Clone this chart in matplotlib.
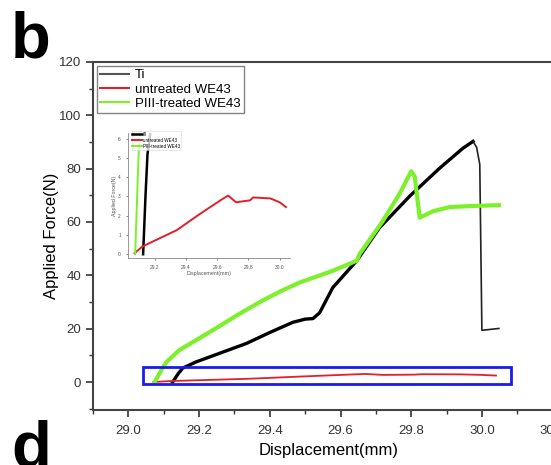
import matplotlib.pyplot as plt
from matplotlib.patches import Rectangle
from matplotlib.ticker import MultipleLocator

plt.rcParams['font.family'] = ['Liberation Sans', 'DejaVu Sans']

# Ti: main rising part and the drop after failure
ti_x = [29.125, 29.14, 29.153, 29.19, 29.258, 29.334, 29.40, 29.465, 29.50, 29.522,
        29.541, 29.578, 29.646, 29.71, 29.796, 29.88, 29.946, 29.975]
ti_y = [0.0, 3.0, 5.2, 7.5, 10.8, 14.5, 18.6, 22.4, 23.6, 23.8,
        26.0, 35.4, 45.5, 57.8, 69.7, 80.1, 87.6, 90.2]
ti_drop_x = [29.975, 29.985, 29.994, 30.0, 30.048]
ti_drop_y = [90.2, 88.0, 81.6, 19.4, 20.1]

# untreated WE43
red_x = [29.07, 29.12, 29.34, 29.49, 29.62, 29.67, 29.72, 29.81, 29.83, 29.94, 30.0, 30.04]
red_y = [0.05, 0.4, 1.25, 2.1, 2.8, 3.05, 2.7, 2.8, 2.95, 2.9, 2.7, 2.45]

# PIII-treated WE43
grn_x = [29.074, 29.093, 29.107, 29.144, 29.238, 29.314, 29.38, 29.43, 29.484, 29.578,
         29.646, 29.654, 29.72, 29.768, 29.80, 29.81, 29.824, 29.861, 29.909, 29.975, 30.048]
grn_y = [0.0, 4.5, 7.5, 12.0, 19.4, 25.6, 30.6, 34.0, 37.3, 41.7,
         45.5, 48.0, 60.4, 70.8, 79.0, 77.0, 61.6, 64.0, 65.6, 66.0, 66.3]

labels = ['Ti', 'untreated WE43', 'PIII-treated WE43']

fig = plt.figure(figsize=(5.51, 4.65), dpi=100)
ax = fig.add_axes([0.169, 0.118, 0.898, 0.749])

ax.plot(ti_x, ti_y, color='black', lw=2.4)
ax.plot(ti_drop_x, ti_drop_y, color='#222222', lw=1.2)
ax.plot([], [], color='#555555', lw=1.2, label=labels[0])
ax.plot(red_x, red_y, color='#e0202a', lw=1.3, label=labels[1])
ax.plot(grn_x, grn_y, color='#7cf02a', lw=3, label=labels[2])

ax.add_patch(Rectangle((29.042, -0.8), 1.04, 6.4, fill=False, edgecolor='#1a1aee', lw=2, zorder=5))

ax.set_xlim(28.9, 30.3)
ax.set_ylim(-10.5, 120)
ax.xaxis.set_major_locator(MultipleLocator(0.2))
ax.xaxis.set_minor_locator(MultipleLocator(0.1))
ax.yaxis.set_major_locator(MultipleLocator(20))
ax.yaxis.set_minor_locator(MultipleLocator(10))
ax.tick_params(which='both', direction='out', top=False, right=False, labelsize=9.5, colors='#333333')
ax.tick_params(which='major', length=5, width=1.2)
ax.tick_params(axis='x', which='major', pad=6)
ax.tick_params(which='minor', length=3, width=1)
for s in ax.spines.values():
    s.set_linewidth(1.5)
    s.set_color('#444444')
ax.set_xlabel('Displacement(mm)', fontsize=12)
ax.set_ylabel('Applied Force(N)', fontsize=12)
ax.xaxis.set_label_coords(0.475, -0.095)
ax.yaxis.set_label_coords(-0.069, 0.5)

leg = ax.legend(loc='upper left', fontsize=9.5, frameon=True, fancybox=False, handlelength=2.2,
                borderaxespad=0.3, labelspacing=0.15, handletextpad=0.4, borderpad=0.25)
leg.get_frame().set_edgecolor('#666666')
leg.get_frame().set_linewidth(1)
for h in leg.get_lines():
    h.set_linewidth(1.5)

# inset zoom of the boxed region
ins = fig.add_axes([0.232, 0.445, 0.294, 0.269])
ins.plot(ti_x, ti_y, color='black', lw=1.8, label=labels[0])
ins.plot(red_x, red_y, color='#e0202a', lw=1.4, label=labels[1])
ins.plot(grn_x, grn_y, color='#7cf02a', lw=1.4, label=labels[2])
ins.set_xlim(29.027, 30.065)
ins.set_ylim(-0.2, 6.3)
ins.set_xticks([29.2, 29.4, 29.6, 29.8, 30.0])
ins.set_yticks(range(0, 7))
ins.tick_params(labelsize=3.5, length=1.5, width=0.5, colors='#555555')
for k in ['top', 'right']:
    ins.spines[k].set_visible(False)
for k in ['left', 'bottom']:
    ins.spines[k].set_linewidth(0.6)
    ins.spines[k].set_color('#888888')
ins.set_xlabel('Displacement(mm)', fontsize=3.8, labelpad=1, color='#555555')
ins.set_ylabel('Applied Force(N)', fontsize=3.8, labelpad=1, color='#555555')
ileg = ins.legend(loc='upper left', fontsize=3.3, frameon=True, fancybox=False, handlelength=2,
                  borderaxespad=0.1, labelspacing=0.2, handletextpad=0.3, borderpad=0.2,
                  bbox_to_anchor=(0.02, 1.02))
ileg.get_frame().set_linewidth(0.4)

fig.text(0.02, 1 - 57 / 465, 'b', fontsize=47, fontweight='bold', va='baseline')
fig.text(0.02, -0.004, 'd', fontsize=47, fontweight='bold', va='baseline')

fig.savefig('out.png', dpi=100)
